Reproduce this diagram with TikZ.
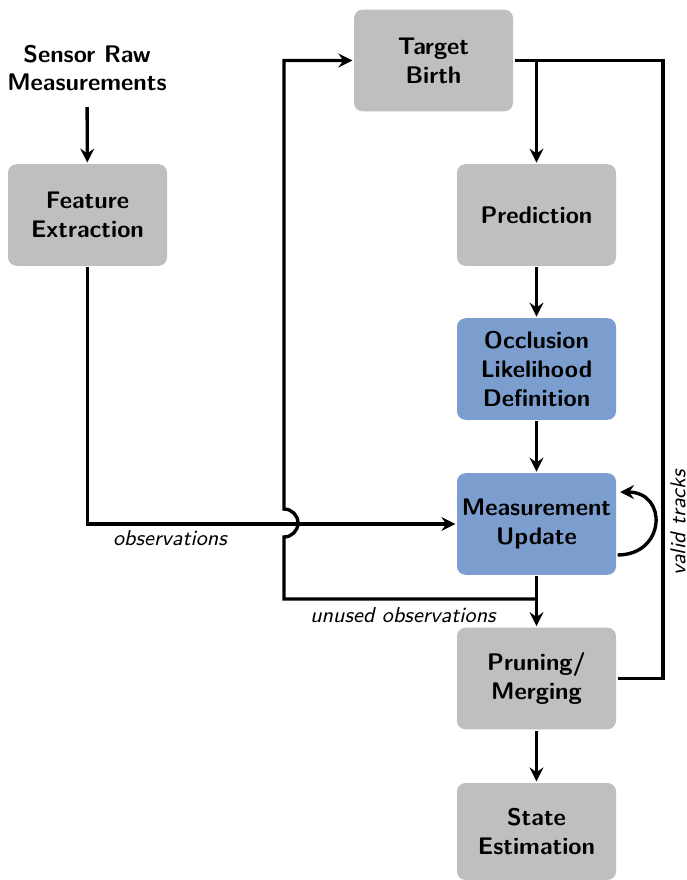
\documentclass[tikz,border=0pt]{standalone}
\usepackage{fontspec}
\usetikzlibrary{arrows.meta}
\definecolor{boxgray}{RGB}{191,191,191}
\definecolor{boxblue}{RGB}{123,158,206}
\begin{document}
\begin{tikzpicture}[x=0.41667pt,y=-0.41667pt,
  line width=1.4pt,
  >={Stealth[length=5.8pt,width=5.8pt,inset=2pt]},
  box/.style={rounded corners=3.5pt, minimum width=66.25pt, minimum height=42.3pt,
    align=center, font=\sffamily\bfseries, inner sep=0pt, draw=none},
  graybox/.style={box, fill=boxgray},
  bluebox/.style={box, fill=boxblue},
  lbl/.style={font=\sffamily\itshape\small, inner sep=0pt}]
\useasboundingbox (0,0) rectangle (687,880);

% processing blocks
\node[align=center, font=\sffamily\bfseries, inner sep=0pt] (sensor) at (87,68) {Sensor Raw\\Measurements};
\node[graybox] (feat)  at (87.5,215)  {Feature\\Extraction};
\node[graybox] (birth) at (433.5,60.5) {Target\\Birth};
\node[graybox] (pred)  at (536.5,215) {Prediction};
\node[bluebox] (occl)  at (536.5,369) {Occlusion\\Likelihood\\Definition};
\node[bluebox] (meas)  at (536.5,524) {Measurement\\Update};
\node[graybox] (prune) at (536.5,678.5) {Pruning/\\Merging};
\node[graybox, minimum height=40.4pt] (state) at (536.5,831.5) {State\\Estimation};

% labels
\node[lbl] (obs) at (170,538) {observations};
\node[lbl] (unused) at (403,615) {unused observations};
\node[lbl, rotate=90] (valid) at (678,523) {valid tracks};

% main chain
\draw[->, shorten <=6pt] (sensor) -- (feat);
\draw[->] (pred) -- (occl);
\draw[->] (occl) -- (meas);
\draw[->] (meas) -- (prune);
\draw[->] (prune) -- (state);

% observations into the update
\draw[->] (feat.south) |- (meas.west);

% unused observations back to target birth, hopping over the observations line
\coordinate (split) at (536.5,599);
\draw[->] (split) -- (284,599) -- (284,537)
  arc[start angle=-90, end angle=90, radius=5.83pt]
  -- (284,60.5) -- (birth.west);

% birth and valid tracks feeding the prediction
\coordinate (join) at (birth.east -| pred.north);
\draw (birth.east) -- (join);
\draw[->] (join) -- (pred.north);
\draw (prune.east) -- (663,678.5) -- (663,60.5) -- (join);

% iterated update loop
\draw[->] ([yshift=-12.9pt]meas.east) .. controls +(20pt,0) and +(20pt,0) .. ([yshift=13.3pt, xshift=1pt]meas.east);
\end{tikzpicture}
\end{document}
